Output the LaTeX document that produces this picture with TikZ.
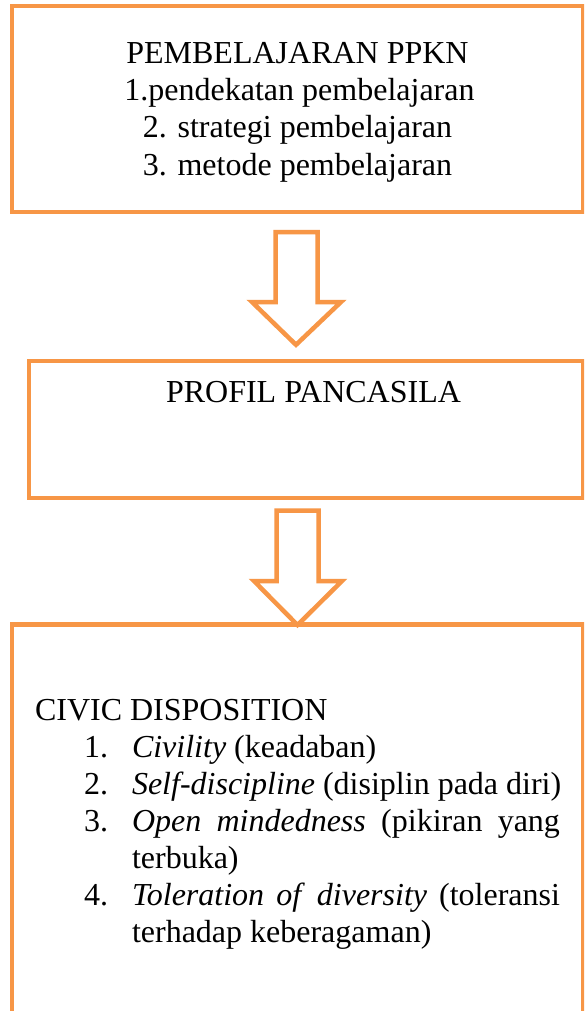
\documentclass[tikz,border=0pt]{standalone}
\usepackage{fontspec}
\setmainfont{Liberation Serif}
\definecolor{boxorange}{HTML}{F79646}
\tikzset{
  boxline/.style={draw=boxorange, line width=2.25pt, line join=miter},
  blockarrow/.style={draw=boxorange, line width=2.25pt, line join=miter, miter limit=10},
  txt/.style={inner sep=0pt, outer sep=0pt, font=\fontsize{16}{19}\selectfont},
}
\begin{document}
\begin{tikzpicture}[x=0.5pt, y=-0.5pt]
\clip (0,0) rectangle (584,1011);
\fill[white] (0,0) rectangle (584,1011);
% boxes
\draw[boxline] (12,6) rectangle (583,212);
\draw[boxline] (29,361) rectangle (583,498);
\draw[boxline] (12,624.5) rectangle (583,1040);
% arrows
\draw[blockarrow] (275.5,232) -- (317.7,232) -- (317.7,302) -- (341,302) -- (296,344.8) -- (252,302) -- (275.5,302) -- cycle;
\draw[blockarrow] (276.5,510.5) -- (318.5,510.5) -- (318.5,581) -- (342,581) -- (297.5,625) -- (254,581) -- (276.5,581) -- cycle;
% top box text
\node[txt, anchor=base] (t1) at (297.5,64) {PEMBELAJARAN PPKN};
\node[txt, anchor=base] (t2) at (299.5,101) {1.pendekatan pembelajaran};
\node[txt, anchor=base] (t3) at (297.5,138) {2. strategi pembelajaran};
\node[txt, anchor=base] (t4) at (297.5,175) {3. metode pembelajaran};
% middle box
\node[txt, anchor=base] (p1) at (313.5,402) {PROFIL PANCASILA};
% bottom box
\node[txt, anchor=base west] (c0) at (35,720) {CIVIC DISPOSITION};
\node[txt, anchor=base west] (n1) at (84,757) {1.};
\node[txt, anchor=base west] (c1) at (132,757) {\textit{Civility} (keadaban)};
\node[txt, anchor=base west] (n2) at (84,794) {2.};
\node[txt, anchor=base west] (c2) at (132,794) {\textit{Self-discipline} (disiplin pada diri)};
\node[txt, anchor=base west] (n3) at (84,831) {3.};
\node[txt, anchor=base west] (c3) at (132,831) {\hbox to 214pt{\textit{Open}\hfill\textit{mindedness}\hfill(pikiran\hfill yang}};
\node[txt, anchor=base west] (c3b) at (132,868) {terbuka)};
\node[txt, anchor=base west] (n4) at (84,905) {4.};
\node[txt, anchor=base west] (c4) at (132,905) {\hbox to 214pt{\textit{Toleration}\hfill\textit{of}\hfill\textit{diversity}\hfill(toleransi}};
\node[txt, anchor=base west] (c4b) at (132,942) {terhadap keberagaman)};
\end{tikzpicture}
\end{document}
